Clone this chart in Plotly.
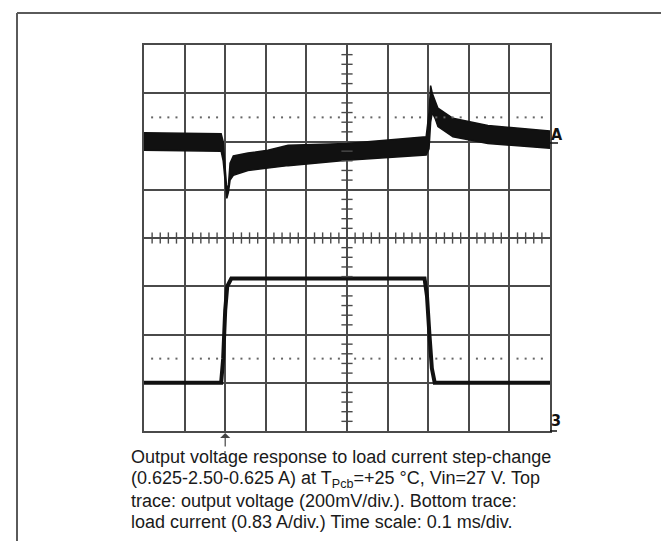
import numpy as np
import plotly.graph_objects as go

# scope screen is 10 x 8 divisions; values below are in divisions
volt_x = [0, 1.9, 1.95, 2.0, 2.04, 2.08, 2.12, 2.2, 2.56, 3.05, 3.55, 5.0, 6.82,
          6.95, 7.02, 7.06, 7.1, 7.17, 7.24, 7.61, 8.47, 10]
volt_upper = [6.18, 6.16, 6.0, 5.4, 5.0, 5.1, 5.55, 5.7, 5.76, 5.82, 5.92, 5.96, 6.1,
              6.1, 6.6, 7.16, 7.0, 6.83, 6.69, 6.48, 6.33, 6.22]
volt_lower = [5.82, 5.8, 5.6, 5.1, 4.82, 4.95, 5.2, 5.3, 5.4, 5.45, 5.5, 5.61, 5.71,
              5.72, 5.85, 6.4, 6.6, 6.48, 6.31, 6.1, 5.96, 5.86]

curr_x = [0, 1.9, 1.95, 2.0, 2.05, 2.15, 6.91, 6.97, 7.03, 7.09, 7.16, 10]
curr_y = [1.0, 1.0, 1.5, 2.5, 3.0, 3.16, 3.16, 2.8, 2.0, 1.3, 1.0, 1.0]

caption_lines = [
    "Output voltage response to load current step-change",
    "(0.625-2.50-0.625 A) at T<sub>Pcb</sub>=+25 °C, Vin=27 V. Top",
    "trace: output voltage (200mV/div.). Bottom trace:",
    "load current (0.83 A/div.) Time scale: 0.1 ms/div.",
]

W, H = 669, 541
L, R, T, B = 136, 542, 37, 423
GRID = "#4a4a4a"
INK = "#111111"


def px(x):
    return (x - L) / (R - L)


def py(y):
    return (B - y) / (B - T)


fig = go.Figure()

# voltage trace (thick noisy band)
fig.add_trace(go.Scatter(x=volt_x, y=volt_lower, mode="lines",
                         line=dict(color=INK, width=1.5), showlegend=False))
fig.add_trace(go.Scatter(x=volt_x, y=volt_upper, mode="lines", fill="tonexty",
                         fillcolor=INK, line=dict(color=INK, width=1.5), showlegend=False))

# current trace
fig.add_trace(go.Scatter(x=curr_x, y=curr_y, mode="lines",
                         line=dict(color=INK, width=4), showlegend=False))

# center-line minor ticks
minor = np.round(np.arange(0, 10.001, 0.2), 2)
minor_x = [v for v in minor if abs(v - round(v)) > 1e-6]
minor_yv = np.round(np.arange(0, 8.001, 0.2), 2)
minor_y = [v for v in minor_yv if abs(v - round(v)) > 1e-6]
fig.add_trace(go.Scatter(x=minor_x, y=[4] * len(minor_x), mode="markers",
                         marker=dict(symbol="line-ns", size=8, line=dict(color=GRID, width=1.4)),
                         showlegend=False, hoverinfo="skip"))
fig.add_trace(go.Scatter(x=[5] * len(minor_y), y=minor_y, mode="markers",
                         marker=dict(symbol="line-ew", size=8, line=dict(color=GRID, width=1.4)),
                         showlegend=False, hoverinfo="skip"))

# dotted reference lines
for yd in (6.5, 1.5):
    fig.add_trace(go.Scatter(x=minor_x, y=[yd] * len(minor_x), mode="markers",
                             marker=dict(symbol="square", size=2, color="#666666"),
                             showlegend=False, hoverinfo="skip"))

# ground markers
fig.add_trace(go.Scatter(x=[-0.12], y=[2], mode="markers", cliponaxis=False,
                         marker=dict(symbol="triangle-right", size=9, color="#333333"),
                         showlegend=False))
fig.add_trace(go.Scatter(x=[10.12], y=[2], mode="markers", cliponaxis=False,
                         marker=dict(symbol="triangle-left", size=9, color="#333333"),
                         showlegend=False))

shapes = [
    # page frame (open at bottom)
    dict(type="line", xref="paper", yref="paper", x0=px(9), x1=px(664), y0=py(5), y1=py(5),
         line=dict(color="#5a5a5a", width=2)),
    dict(type="line", xref="paper", yref="paper", x0=px(9), x1=px(9), y0=py(5), y1=py(545),
         line=dict(color="#5a5a5a", width=2)),
    dict(type="line", xref="paper", yref="paper", x0=px(664), x1=px(664), y0=py(5), y1=py(545),
         line=dict(color="#5a5a5a", width=2)),
    # channel label underlines
    dict(type="line", xref="paper", yref="paper", x0=px(542), x1=px(550), y0=py(135), y1=py(135),
         line=dict(color=INK, width=1.5)),
    dict(type="line", xref="paper", yref="paper", x0=px(542), x1=px(549), y0=py(423), y1=py(423),
         line=dict(color=INK, width=1.5)),
    # dot under trigger arrow
    dict(type="line", xref="paper", yref="paper", x0=px(217), x1=px(217), y0=py(443), y1=py(445),
         line=dict(color="#444444", width=1.2)),
]

label_font = dict(family="Liberation Sans Narrow, DejaVu Sans Condensed", size=16, color=INK)
annotations = [
    dict(text="<b>A</b>", xref="paper", yref="paper", x=px(541), y=py(126), xanchor="left",
         yanchor="middle", showarrow=False, font=label_font),
    dict(text="<b>3</b>", xref="paper", yref="paper", x=px(541), y=py(412), xanchor="left",
         yanchor="middle", showarrow=False, font=label_font),
    # trigger arrow
    dict(text="", x=2, xref="x", y=py(425), yref="paper", showarrow=True,
         ax=0, ay=15, arrowhead=1, arrowsize=1.4, arrowwidth=1.2, arrowcolor="#444444"),
]

caption_y = [449, 471, 493, 514]
for line, yy in zip(caption_lines, caption_y):
    annotations.append(dict(text=line, xref="paper", yref="paper", x=px(121), y=py(yy),
                            xanchor="left", yanchor="middle", showarrow=False, align="left",
                            font=dict(family="Liberation Sans, Arial", size=18, color="#1a1a1a")))

axis_common = dict(showgrid=True, gridcolor=GRID, gridwidth=1.6, zeroline=False,
                   showline=True, linecolor=GRID, linewidth=1.8, mirror=True,
                   showticklabels=False, ticks="", fixedrange=True)

fig.update_layout(
    width=W, height=H,
    margin=dict(l=L, r=W - R, t=T, b=H - B),
    paper_bgcolor="white", plot_bgcolor="white",
    xaxis=dict(range=[0, 10], dtick=1, **axis_common),
    yaxis=dict(range=[0, 8], dtick=1, **axis_common),
    shapes=shapes, annotations=annotations, showlegend=False,
)

fig.write_html("out.html")
